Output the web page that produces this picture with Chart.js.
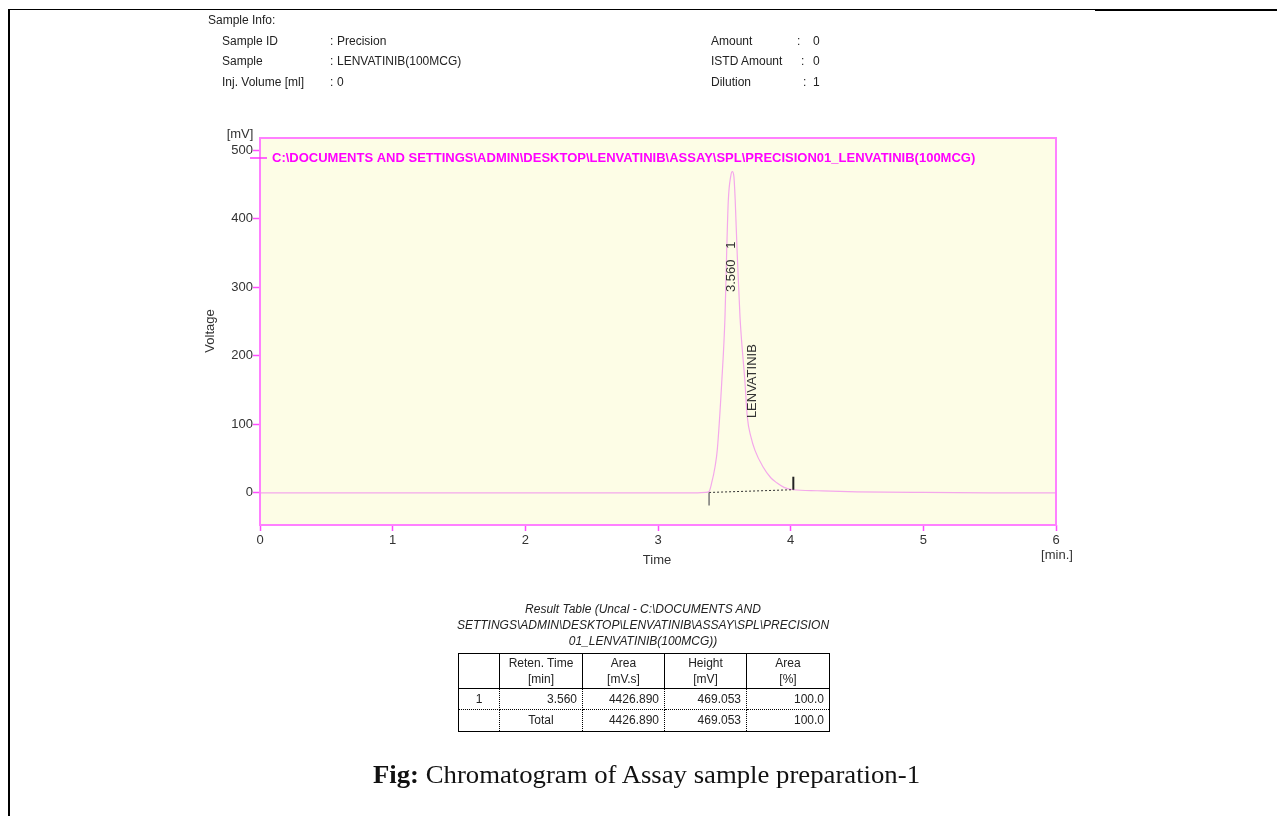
<!DOCTYPE html>
<html>
<head>
<meta charset="utf-8">
<script src="https://cdn.jsdelivr.net/npm/chart.js@4.4.1/dist/chart.umd.min.js"></script>
<style>
  html, body { margin: 0; padding: 0; background: #fff; width: 1277px; height: 816px; overflow: hidden; }
  body { position: relative; font-family: "Liberation Sans", Arial, sans-serif; color: #222; }
  #plot { position: absolute; left: 0; top: 0; }
  .rule { position: absolute; background: #000; }
  .txt { position: absolute; font-size: 12px; line-height: 14px; white-space: nowrap; transform: translateY(-50%); color: #222; }
  #resTitle { position: absolute; left: 393px; width: 500px; top: 601px; text-align: center;
              font-style: italic; font-size: 12px; line-height: 16px; color: #222; }
  #resTable { position: absolute; left: 458px; top: 653px; border-collapse: collapse;
              border: 1.5px solid #000; font-size: 12px; color: #222; table-layout: fixed; }
  #resTable td { padding: 0 5px; border-left: 1px dotted #000; border-right: 1px dotted #000; line-height: 15px; }
  #resTable tr.head td { border-left: 1px solid #000; border-right: 1px solid #000; border-bottom: 1px solid #000;
                         text-align: center; height: 34px; line-height: 16px; }
  #resTable tr.row1 td { height: 20px; border-bottom: 1px dotted #000; text-align: right; }
  #resTable tr.row2 td { height: 21px; text-align: right; }
  #resTable tr td.c { text-align: center; }
  #caption { position: absolute; top: 760px; left: 0; font-family: "Liberation Serif", "Times New Roman", serif;
             font-size: 26px; line-height: 30px; white-space: nowrap; color: #111; transform-origin: 0 0; }
</style>
</head>
<body>
<canvas id="plot" width="1277" height="816"></canvas>

<div class="rule" style="left:8px; top:9px; width:1087px; height:1px;"></div>
<div class="rule" style="left:1095px; top:9px; width:182px; height:2px;"></div>
<div class="rule" style="left:8px; top:9px; width:2px; height:807px;"></div>

<div id="info"></div>
<div id="resTitle"></div>
<table id="resTable"></table>
<div id="caption"><b>Fig:</b> Chromatogram of Assay sample preparation-1</div>

<script>
// ---- chromatogram trace (time in min, signal in mV) ----
const traceTimes = [0, 0.5, 1.0, 1.5, 2.0, 2.5, 3.0, 3.3, 3.36, 3.385, 3.404, 3.43, 3.447, 3.48, 3.505, 3.518,
                    3.53, 3.548, 3.56, 3.572, 3.582, 3.596, 3.618, 3.656, 3.673, 3.70, 3.731, 3.791, 3.85,
                    3.895, 3.95, 4.02, 4.2, 4.5, 5.0, 5.5, 6.0];
const traceMv =    [0, 0, 0, 0, 0, 0, 0, 0, 0.5, 2, 14, 38, 63, 160, 257, 354,
                    427, 462, 469.053, 462, 427, 354, 257, 160, 111, 82, 62, 38, 22,
                    14.6, 8, 4.5, 3, 1.5, 0.5, 0, 0];

// integration baseline of peak 1
const baseTimes = [3.385, 4.02];
const baseMv = [0.5, 4.5];

// peak annotations
const peakRt = [3.560];
const peakNumber = ['1'];
const peakName = ['LENVATINIB'];
const peakNameMv = [163];
const peakLabelMv = [330];

// axes
const xTickValues = [0, 1, 2, 3, 4, 5, 6];
const yTickValues = [0, 100, 200, 300, 400, 500];
const xRange = [0, 6];
const yRange = [-47, 518];

const traceLabel = 'C:\\DOCUMENTS AND SETTINGS\\ADMIN\\DESKTOP\\LENVATINIB\\ASSAY\\SPL\\PRECISION01_LENVATINIB(100MCG)';

// sample info
const infoLabelsLeft = ['Sample ID', 'Sample', 'Inj. Volume [ml]'];
const infoValuesLeft = ['Precision', 'LENVATINIB(100MCG)', '0'];
const infoLabelsRight = ['Amount', 'ISTD Amount', 'Dilution'];
const infoValuesRight = ['0', '0', '1'];

// result table
const resultTitle = ['Result Table (Uncal - C:\\DOCUMENTS AND',
                     'SETTINGS\\ADMIN\\DESKTOP\\LENVATINIB\\ASSAY\\SPL\\PRECISION',
                     '01_LENVATINIB(100MCG))'];
const colHeads = ['', 'Reten. Time', 'Area', 'Height', 'Area'];
const colUnits = ['', '[min]', '[mV.s]', '[mV]', '[%]'];
const colWidths = [41, 83, 82, 82, 83];
const peakRow = ['1', '3.560', '4426.890', '469.053', '100.0'];
const totalRow = ['', 'Total', '4426.890', '469.053', '100.0'];

// ---------- sample info block ----------
(function () {
  const info = document.getElementById('info');
  function put(text, x, y) {
    const d = document.createElement('div');
    d.className = 'txt';
    d.style.left = x + 'px';
    d.style.top = y + 'px';
    d.textContent = text;
    info.appendChild(d);
  }
  put('Sample Info:', 208, 20);
  const rowsY = [41, 61, 82];
  const leftColon = [330, 330, 330];
  const rightColon = [797, 801, 803];
  for (let i = 0; i < 3; i++) {
    put(infoLabelsLeft[i], 222, rowsY[i]);
    put(':', leftColon[i], rowsY[i]);
    put(infoValuesLeft[i], 337, rowsY[i]);
    put(infoLabelsRight[i], 711, rowsY[i]);
    put(':', rightColon[i], rowsY[i]);
    put(infoValuesRight[i], 813, rowsY[i]);
  }
})();

// ---------- result table ----------
(function () {
  document.getElementById('resTitle').innerHTML = resultTitle.join('<br>');
  const tbl = document.getElementById('resTable');
  const cg = document.createElement('colgroup');
  colWidths.forEach(w => { const c = document.createElement('col'); c.style.width = w + 'px'; cg.appendChild(c); });
  tbl.appendChild(cg);
  const head = tbl.insertRow(); head.className = 'head';
  colHeads.forEach((h, i) => { const td = head.insertCell(); td.innerHTML = h ? h + '<br>' + colUnits[i] : ''; });
  [[peakRow, 'row1'], [totalRow, 'row2']].forEach(([vals, cls]) => {
    const tr = tbl.insertRow(); tr.className = cls;
    vals.forEach((v, i) => {
      const td = tr.insertCell();
      td.textContent = v;
      if (i === 0 || v === 'Total') td.className = 'c';
    });
  });
})();

// ---------- caption ----------
(function () {
  const cap = document.getElementById('caption');
  const w = cap.getBoundingClientRect().width;
  const target = 547;
  cap.style.left = '373px';
  cap.style.transform = 'scaleX(' + (target / w) + ')';
})();

// ---------- chart ----------
const AXIS_PINK = '#ff4dff';
const BOX_PINK = '#ff80ff';
const TRACE_PINK = '#f4a8eb';
const PLOT_BG = '#fdfde6';
const LABEL_GREY = '#333';
const FONT = '"Liberation Sans", Arial, sans-serif';

const chromPlugin = {
  id: 'chromDecor',
  beforeDatasetsDraw(chart) {
    const { ctx, chartArea: a } = chart;
    ctx.save();
    ctx.fillStyle = PLOT_BG;
    ctx.fillRect(a.left, a.top, a.right - a.left, a.bottom - a.top);
    ctx.restore();
  },
  afterDatasetsDraw(chart) {
    const { ctx, chartArea: a, scales: { x, y } } = chart;
    ctx.save();
    // plot frame
    ctx.strokeStyle = BOX_PINK;
    ctx.lineWidth = 2;
    ctx.strokeRect(a.left, a.top, a.right - a.left, a.bottom - a.top);

    // baseline start / end markers
    const xs = x.getPixelForValue(baseTimes[0]);
    const ys = y.getPixelForValue(baseMv[0]);
    ctx.strokeStyle = '#777';
    ctx.lineWidth = 1.5;
    ctx.beginPath(); ctx.moveTo(xs, ys); ctx.lineTo(xs, ys + 13); ctx.stroke();
    const xe = x.getPixelForValue(baseTimes[1]);
    const ye = y.getPixelForValue(baseMv[1]);
    ctx.strokeStyle = '#222';
    ctx.lineWidth = 2;
    ctx.beginPath(); ctx.moveTo(xe, ye); ctx.lineTo(xe, ye - 13); ctx.stroke();

    // peak labels (rotated)
    ctx.fillStyle = LABEL_GREY;
    ctx.font = '13px ' + FONT;
    ctx.textAlign = 'center';
    ctx.textBaseline = 'middle';
    for (let i = 0; i < peakRt.length; i++) {
      ctx.save();
      ctx.translate(x.getPixelForValue(peakRt[i]) - 1, y.getPixelForValue(peakLabelMv[i]));
      ctx.rotate(-Math.PI / 2);
      ctx.fillText(peakRt[i].toFixed(3) + '   ' + peakNumber[i], 0, 0);
      ctx.restore();
      ctx.save();
      ctx.translate(x.getPixelForValue(peakRt[i] + 0.148), y.getPixelForValue(peakNameMv[i]));
      ctx.rotate(-Math.PI / 2);
      ctx.fillText(peakName[i], 0, 0);
      ctx.restore();
    }
    ctx.restore();
  },
  afterDraw(chart) {
    const { ctx, chartArea: a } = chart;
    ctx.save();
    // trace legend inside the frame
    const ly = a.top + 20;
    ctx.strokeStyle = '#ff33ff';
    ctx.lineWidth = 1.5;
    ctx.beginPath(); ctx.moveTo(a.left - 10, ly); ctx.lineTo(a.left + 7, ly); ctx.stroke();
    ctx.fillStyle = '#ff00ff';
    ctx.font = 'bold 13px ' + FONT;
    ctx.textBaseline = 'middle';
    ctx.textAlign = 'left';
    ctx.fillText(chart.data.datasets[1].label, a.left + 12, ly);

    // axis titles and units
    ctx.fillStyle = LABEL_GREY;
    ctx.font = '13px ' + FONT;
    ctx.textAlign = 'center';
    ctx.fillText('Time', (a.left + a.right) / 2 - 1, a.bottom + 35);
    ctx.fillText('[min.]', a.right + 1, a.bottom + 30);
    ctx.fillText('[mV]', a.left - 20, a.top - 4);
    ctx.save();
    ctx.translate(a.left - 50, 331);
    ctx.rotate(-Math.PI / 2);
    ctx.fillText('Voltage', 0, 0);
    ctx.restore();
    ctx.restore();
  }
};

new Chart(document.getElementById('plot'), {
  type: 'line',
  data: {
    datasets: [
      {
        label: 'baseline',
        data: baseTimes.map((t, i) => ({ x: t, y: baseMv[i] })),
        borderColor: '#333',
        borderWidth: 1,
        borderDash: [2, 2],
        pointRadius: 0,
        tension: 0
      },
      {
        label: traceLabel,
        data: traceTimes.map((t, i) => ({ x: t, y: traceMv[i] })),
        borderColor: TRACE_PINK,
        borderWidth: 1.2,
        pointRadius: 0,
        cubicInterpolationMode: 'monotone'
      }
    ]
  },
  options: {
    responsive: false,
    animation: false,
    events: [],
    layout: { padding: { left: 220, top: 138, right: 221, bottom: 261 } },
    plugins: { legend: { display: false }, tooltip: { enabled: false } },
    scales: {
      x: {
        type: 'linear',
        min: xRange[0], max: xRange[1],
        afterBuildTicks: s => { s.ticks = xTickValues.map(v => ({ value: v })); },
        afterFit: s => { s.height = 30; },
        border: { display: false },
        grid: { drawOnChartArea: false, drawTicks: true, tickLength: 6, tickColor: AXIS_PINK, tickWidth: 1.5 },
        ticks: { color: LABEL_GREY, font: { family: FONT, size: 13 }, padding: 2, maxRotation: 0 }
      },
      y: {
        type: 'linear',
        min: yRange[0], max: yRange[1],
        afterBuildTicks: s => { s.ticks = yTickValues.map(v => ({ value: v })); },
        afterFit: s => { s.width = 40; },
        border: { display: false },
        grid: { drawOnChartArea: false, drawTicks: true, tickLength: 7, tickColor: AXIS_PINK, tickWidth: 1.5 },
        ticks: { color: LABEL_GREY, font: { family: FONT, size: 13 }, padding: 0 }
      }
    }
  },
  plugins: [chromPlugin]
});
</script>
</body>
</html>
